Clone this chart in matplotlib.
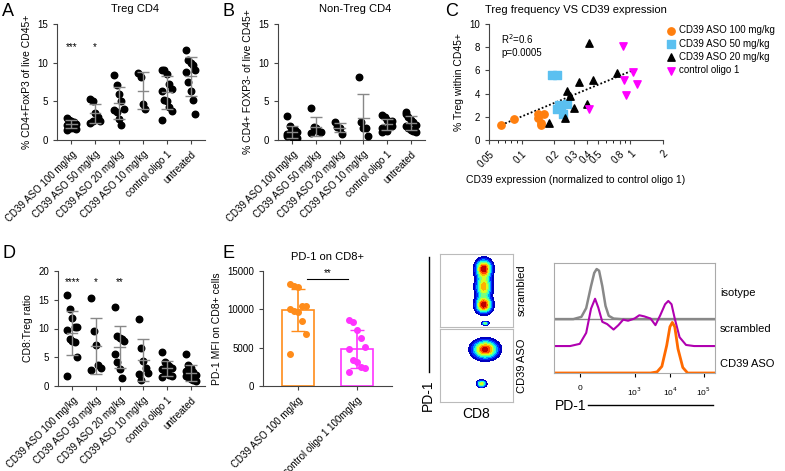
import numpy as np
import matplotlib
matplotlib.use("Agg")
import matplotlib.pyplot as plt

plt.rcParams['font.family'] = ['Liberation Sans', 'DejaVu Sans']

W, H = 785, 471
cats = ["CD39 ASO 100 mg/kg", "CD39 ASO 50 mg/kg", "CD39 ASO 20 mg/kg",
        "CD39 ASO 10 mg/kg", "control oligo 1", "untreated"]

treg = [[2.8, 2.5, 2.4, 2.3, 2.1, 2.0, 1.8, 1.6, 1.5, 1.4, 1.3, 2.6],
        [5.3, 5.1, 3.5, 3.0, 2.5, 2.2, 2.4],
        [8.4, 7.1, 6.0, 5.1, 4.0, 3.9, 3.6, 2.7, 2.0],
        [8.6, 8.2, 4.6, 4.0],
        [9.1, 9.0, 8.5, 7.3, 6.6, 6.3, 5.2, 5.0, 4.3, 3.7, 2.6],
        [11.7, 10.4, 10.0, 9.7, 9.1, 8.8, 7.5, 6.4, 5.2, 3.4]]
treg_stars = ["***", "*", "", "", "", ""]

nontreg = [[3.1, 1.8, 1.4, 1.3, 1.0, 0.8, 0.6, 0.4, 0.3, 0.2, 0.5, 0.9],
           [4.1, 1.7, 1.5, 1.2, 1.0, 0.9],
           [2.3, 1.7, 1.6, 0.8],
           [8.2, 2.3, 1.6, 1.5, 0.5],
           [3.2, 3.0, 2.6, 2.0, 1.8, 1.6, 1.3, 1.2, 2.2, 2.4, 1.0],
           [3.6, 3.0, 2.6, 2.3, 2.0, 1.8, 1.6, 1.3, 1.1, 1.0, 3.4]]

cd8treg = [[15.8, 13.4, 11.8, 10.3, 10.2, 9.7, 8.2, 7.8, 7.6, 5.1, 1.8],
           [15.3, 9.5, 7.2, 3.7, 3.1, 2.8],
           [13.8, 8.7, 8.3, 8.1, 7.9, 5.6, 4.1, 3.0, 1.4],
           [11.6, 6.6, 4.4, 3.2, 2.3, 2.1, 1.1],
           [6.0, 4.2, 3.8, 3.5, 3.2, 3.0, 2.6, 2.3, 2.0, 1.8, 1.6],
           [5.6, 3.6, 3.2, 2.4, 2.0, 1.8, 1.5, 1.2, 1.0, 0.9, 2.6]]
cd8_stars = ["****", "*", "**", "", "", ""]

c_labels = ["CD39 ASO 100 mg/kg", "CD39 ASO 50 mg/kg", "CD39 ASO 20 mg/kg", "control oligo 1"]
c_x = [[0.065, 0.085, 0.14, 0.15, 0.15, 0.16, 0.14],
       [0.19, 0.21, 0.22, 0.21, 0.24, 0.26, 0.23],
       [0.18, 0.25, 0.26, 0.28, 0.30, 0.34, 0.40, 0.42, 0.45, 0.75],
       [0.85, 0.88, 0.92, 1.05, 1.15, 0.42]]
c_y = [[1.3, 1.8, 2.2, 1.5, 1.3, 2.2, 1.9],
       [5.6, 5.6, 3.0, 2.7, 2.2, 3.1, 2.8],
       [1.5, 1.9, 4.2, 3.8, 2.8, 5.0, 3.1, 8.4, 5.2, 5.8],
       [8.1, 5.2, 3.9, 5.9, 4.8, 2.7]]
c_colors = ["#ff7f0e", "#5bc0f0", "black", "#ff00ff"]
c_markers = ["o", "s", "^", "v"]
c_fit_x = [0.065, 1.05]
c_fit_y = [1.3, 6.0]

e_cats = ["CD39 ASO 100 mg/kg", "control oligo 1 100mg/kg"]
e_vals = [[13300, 13000, 12900, 10500, 10400, 10000, 9800, 9700, 8500, 6800, 4200],
          [8600, 8400, 7300, 6200, 5100, 4800, 3400, 3100, 2500, 2300, 1800]]
e_colors = ["#ff8c1a", "#ff33ff"]

# histogram curves (axis fraction x, height)
iso_x = [0, 0.12, 0.17, 0.2, 0.23, 0.25, 0.265, 0.28, 0.3, 0.32, 0.34, 0.37, 0.42, 1.0]
iso_y = [0, 0, 0.02, 0.1, 0.3, 0.42, 0.455, 0.44, 0.3, 0.12, 0.03, 0.005, 0, 0]
scr_x = [0, 0.1, 0.16, 0.2, 0.23, 0.255, 0.275, 0.3, 0.33, 0.37, 0.4, 0.43, 0.46, 0.5, 0.53,
         0.56, 0.6, 0.63, 0.66, 0.69, 0.71, 0.73, 0.75, 0.78, 0.82, 0.87, 1.0]
scr_y = [0, 0, 0.02, 0.12, 0.34, 0.43, 0.35, 0.22, 0.2, 0.15, 0.19, 0.24, 0.23, 0.25, 0.28,
         0.27, 0.25, 0.19, 0.28, 0.38, 0.41, 0.38, 0.25, 0.08, 0.01, 0, 0]
cd_x = [0, 0.6, 0.64, 0.67, 0.7, 0.72, 0.735, 0.75, 0.77, 0.8, 0.83, 1.0]
cd_y = [0, 0, 0.01, 0.06, 0.25, 0.42, 0.46, 0.42, 0.22, 0.05, 0, 0]
hist_ticks = [0.16, 0.5, 0.72, 0.93]
hist_ticklabels = ["0", r"10$^{3}$", r"10$^{4}$", r"10$^{5}$"]

# flow plot blobs: (x, y, sx, sy, weight)
top_blobs = [(0.6, 0.8, 0.07, 0.08, 1.0), (0.6, 0.55, 0.07, 0.1, 0.8), (0.6, 0.3, 0.07, 0.07, 1.0),
             (0.62, 0.05, 0.03, 0.015, 0.6)]
bot_blobs = [(0.62, 0.72, 0.11, 0.08, 1.0), (0.57, 0.25, 0.04, 0.03, 0.7)]

fig = plt.figure(figsize=(W / 100, H / 100), dpi=100)


def ax_px(l, t, r, b):
    return fig.add_axes([l / W, 1 - b / H, (r - l) / W, (b - t) / H])


def style(ax):
    for s in ["top", "right"]:
        ax.spines[s].set_visible(False)
    for s in ["left", "bottom"]:
        ax.spines[s].set_color("#444444")
    ax.tick_params(labelsize=7, length=3, color="#444444")


def dotplot(ax, data, ymax, yticks, stars, starpos, ylabel):
    for i, d in enumerate(data):
        n = len(d)
        offs = np.array([((k % 5) - 2) * 0.1 for k in range(n)])
        ax.scatter(i + offs, d, s=22, color="black", zorder=3)
        m, sd = np.mean(d), np.std(d, ddof=1)
        ax.errorbar(i, m, yerr=sd, color="#888888", capsize=4, lw=1, zorder=4)
        ax.plot([i - 0.22, i + 0.22], [m, m], color="#888888", lw=1, zorder=4)
        if stars[i]:
            ax.text(i, starpos, stars[i], ha="center", va="center", fontsize=7)
    ax.set_xlim(-0.6, len(data) - 0.4)
    ax.set_ylim(0, ymax)
    ax.set_yticks(yticks)
    ax.set_xticks(range(len(data)))
    ax.set_xticklabels(cats, rotation=45, ha="right", rotation_mode="anchor", fontsize=7)
    ax.set_ylabel(ylabel, fontsize=7.5)
    style(ax)


axA = ax_px(57, 24, 205, 140)
dotplot(axA, treg, 15, [0, 5, 10, 15], treg_stars, 12, "% CD4+FoxP3 of live CD45+")
fig.text(135 / W, 1 - 9 / H, "Treg CD4", fontsize=8, ha="center", va="center")
axB = ax_px(278, 24, 425, 140)
dotplot(axB, nontreg, 15, [0, 5, 10, 15], [""] * 6, 12, "% CD4+ FOXP3- of live CD45+")
fig.text(355 / W, 1 - 9 / H, "Non-Treg CD4", fontsize=8, ha="center", va="center")
axD = ax_px(58, 271, 205, 386)
dotplot(axD, cd8treg, 20, [0, 5, 10, 15, 20], cd8_stars, 18, "CD8:Treg ratio")

# C
axC = ax_px(489, 24, 663, 140)
for xs, ys, lab, c, mk in zip(c_x, c_y, c_labels, c_colors, c_markers):
    axC.scatter(xs, ys, s=28 if mk != "s" else 30, color=c, marker=mk, label=lab, zorder=3)
axC.plot(c_fit_x, c_fit_y, ls=(0, (1, 1.2)), color="black", lw=1.3)
axC.set_xscale("log")
axC.set_xlim(0.05, 2)
axC.set_ylim(0, 10)
axC.set_yticks([0, 2, 4, 6, 8, 10])
xt = [0.05, 0.1, 0.2, 0.3, 0.4, 0.5, 0.8, 1, 2]
axC.set_xticks(xt)
axC.set_xticklabels(["0.05", "0.1", "0.2", "0.3", "0.4", "0.5", "0.8", "1", "2"],
                    rotation=45, ha="right", rotation_mode="anchor")
axC.xaxis.set_minor_formatter(matplotlib.ticker.NullFormatter())
axC.set_ylabel("% Treg within CD45+", fontsize=7.5)
axC.set_xlabel("CD39 expression (normalized to control oligo 1)", fontsize=7.5)
axC.set_title("Treg frequency VS CD39 expression", fontsize=8, pad=8)
axC.text(0.07, 0.93, "R$^2$=0.6\np=0.0005", transform=axC.transAxes, fontsize=7, va="top")
style(axC)
axC.legend(loc="upper left", bbox_to_anchor=(0.98, 1.04), frameon=False, fontsize=7,
           handletextpad=0.2, labelspacing=0.35, borderaxespad=0.2, handlelength=1.2)

# E
axE = ax_px(263, 271, 392, 386)
for i, (v, c) in enumerate(zip(e_vals, e_colors)):
    m, sd = np.mean(v), np.std(v, ddof=1)
    axE.bar(i, m, width=0.55, facecolor="white", edgecolor=c, lw=1.2)
    axE.errorbar(i, m, yerr=sd, color=c, capsize=5, lw=1.2)
    offs = np.array([((k % 5) - 2) * 0.07 for k in range(len(v))])
    axE.scatter(i + offs, v, s=16, color=c, zorder=3)
axE.plot([0.15, 0.85], [14000, 14000], color="black", lw=0.8)
axE.text(0.5, 14300, "**", ha="center", fontsize=7)
axE.set_xlim(-0.6, 1.6)
axE.set_ylim(0, 15000)
axE.set_yticks([0, 5000, 10000, 15000])
axE.set_xticks([0, 1])
axE.set_xticklabels(e_cats, rotation=45, ha="right", rotation_mode="anchor", fontsize=7)
axE.set_ylabel("PD-1 MFI on CD8+ cells", fontsize=7.5)
axE.set_title("PD-1 on CD8+", fontsize=8, pad=8)
style(axE)

# letters
for lab, x, y in [("A", 2, 12), ("B", 222, 12), ("C", 445, 12), ("D", 2, 254), ("E", 222, 254)]:
    fig.text(x / W, 1 - y / H, lab, fontsize=13, va="center")

# flow density plots
gx, gy = np.meshgrid(np.linspace(0, 1, 120), np.linspace(0, 1, 120))
cmap = plt.get_cmap("jet").copy()
for (t, b), blobs, lab in [((254, 327), top_blobs, "scrambled"), ((329, 402), bot_blobs, "CD39 ASO")]:
    ax = ax_px(440, t, 513, b)
    z = np.zeros_like(gx)
    for (cx, cy, sx, sy, w) in blobs:
        z += w * np.exp(-((gx - cx) ** 2 / (2 * sx ** 2) + (gy - cy) ** 2 / (2 * sy ** 2)))
    ax.contourf(gx, gy, z, levels=np.linspace(0.12, 1.05, 10), cmap=cmap)
    ax.set_xticks([]); ax.set_yticks([])
    for s in ax.spines.values():
        s.set_color("#bbbbbb")
    ax.set_xlim(0, 1); ax.set_ylim(0, 1)
    ax.text(1.05, 0.5, lab, transform=ax.transAxes, rotation=90, va="center", ha="left", fontsize=8)
fig.text(476 / W, 1 - 414 / H, "CD8", fontsize=10, ha="center", va="center")
fig.text(428 / W, 1 - 395 / H, "PD-1", fontsize=10, ha="center", va="center", rotation=90)
fig.add_artist(plt.Line2D([429 / W, 429 / W], [1 - 257 / H, 1 - 372 / H], color="black", lw=1))

# histogram
axH = ax_px(554, 263, 715, 373)
axH.plot(iso_x, np.array(iso_y) + 0.49, color="#888888", lw=1.8)
axH.axhline(0.49, color="#888888", lw=1)
axH.plot(scr_x, np.array(scr_y) + 0.245, color="#b000b0", lw=1.5)
axH.plot(cd_x, cd_y, color="#ff6a00", lw=2)
axH.set_xlim(0, 1); axH.set_ylim(0, 1)
axH.set_yticks([])
axH.set_xticks(hist_ticks)
axH.set_xticklabels(hist_ticklabels, fontsize=6)
axH.tick_params(axis="x", length=3, pad=6)
for s in axH.spines.values():
    s.set_color("#aaaaaa")
for lab, yp in [("isotype", 293), ("scrambled", 329), ("CD39 ASO", 364)]:
    fig.text(720 / W, 1 - yp / H, lab, fontsize=8, va="center")
fig.text(555 / W, 1 - 406 / H, "PD-1", fontsize=10, va="center")
fig.add_artist(plt.Line2D([588 / W, 713 / W], [1 - 405 / H, 1 - 405 / H], color="black", lw=1))

fig.savefig("out.png", dpi=100)
